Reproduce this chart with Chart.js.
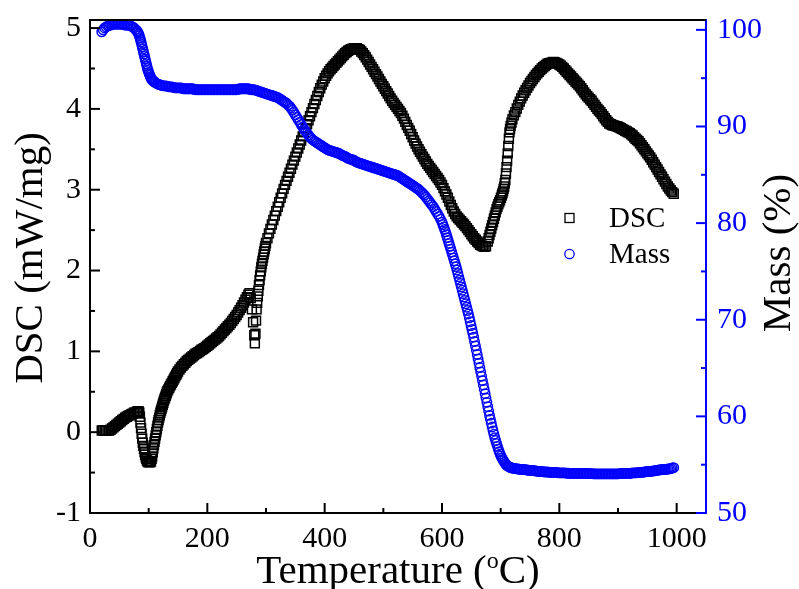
<!DOCTYPE html>
<html>
<head>
<meta charset="utf-8">
<script src="https://cdn.jsdelivr.net/npm/chart.js@4"></script>
<style>
  html, body { margin: 0; padding: 0; background: #fff; }
  #wrap { width: 799px; height: 589px; }
</style>
</head>
<body>
<div id="wrap"><canvas id="dscChart"></canvas></div>
<script>
// Temperature (°C) vs DSC (mW/mg)
const dscPoints = [
  [20,0.02],[22.5,0.02],[25,0.02],[27.5,0.02],[30,0.02],[32.5,0.02],[35,0.03],[37.5,0.045],[40,0.06],[42.5,0.075],
  [45,0.09],[47.5,0.105],[50,0.12],[52.5,0.135],[55,0.15],[57.5,0.165],[60,0.18],[62.5,0.19],[65,0.20],[67.5,0.21],
  [70,0.22],[72.5,0.23],[75,0.24],[77.5,0.245],[80,0.25],[81,0.255],[82,0.26],[83,0.255],[84,0.24],[85,0.19],
  [86,0.12],[87,0.05],[88,-0.02],[89,-0.08],[90,-0.13],[91,-0.17],[92,-0.21],[93,-0.25],[94,-0.28],[95,-0.31],
  [96,-0.33],[97,-0.35],[98,-0.36],[99,-0.37],[100,-0.37],[101,-0.37],[102,-0.37],[103,-0.37],[104,-0.36],[105,-0.33],
  [106,-0.30],[107,-0.25],[108,-0.20],[109,-0.16],[110,-0.12],[111,-0.08],[112,-0.04],[113,0.0],[114,0.04],[115,0.08],
  [116,0.12],[117,0.15],[118,0.18],[119,0.21],[120,0.24],[121,0.265],[122,0.29],[123,0.315],[124,0.34],[125,0.365],
  [126,0.39],[127,0.41],[128,0.43],[129,0.45],[130,0.47],[131,0.49],[132,0.51],[133.5,0.53],[135,0.55],[136.5,0.57],
  [138,0.59],[139.5,0.61],[141,0.63],[142.5,0.65],[144,0.67],[145.5,0.69],[147,0.71],[148.5,0.73],[150,0.75],
  [152.5,0.775],[155,0.80],[157.5,0.82],[160,0.84],[162.5,0.86],[165,0.88],[167.5,0.895],[170,0.91],[172.5,0.925],
  [175,0.94],[177.5,0.955],[180,0.97],[182.5,0.98],[185,0.99],[187.5,1.005],[190,1.02],[192.5,1.03],[195,1.04],
  [197.5,1.055],[200,1.07],[202.5,1.085],[205,1.10],[207.5,1.115],[210,1.13],[212.5,1.145],[215,1.16],[217.5,1.175],
  [220,1.19],[222.5,1.21],[225,1.23],[227.5,1.25],[230,1.27],[232.5,1.29],[235,1.31],[237.5,1.33],[240,1.35],
  [242.5,1.375],[245,1.40],[247.5,1.425],[250,1.45],[252.5,1.48],[255,1.51],[257.5,1.54],[260,1.57],[262.5,1.605],
  [265,1.64],[267.5,1.67],[270,1.70],[272,1.72],[274,1.66],[276,1.52],[278,1.36],[280,1.20],[281,1.10],[282,1.22],
  [283,1.38],[284,1.52],[285,1.60],[286,1.68],[287,1.75],[288,1.82],[289,1.88],[290,1.94],[291,1.99],[292,2.04],
  [293,2.08],[294,2.12],[295,2.16],[296,2.20],[297,2.235],[298,2.27],[299,2.305],[300,2.34],
  [302.5,2.40],[305,2.46],[307.5,2.515],[310,2.57],[312.5,2.625],[315,2.68],[317.5,2.735],[320,2.79],[322.5,2.845],
  [325,2.90],[327.5,2.955],[330,3.01],[332.5,3.06],[335,3.11],[337.5,3.16],[340,3.21],[342.5,3.26],[345,3.31],
  [347.5,3.36],[350,3.41],[352.5,3.46],[355,3.51],[357.5,3.56],[360,3.61],[362.5,3.66],[365,3.71],[367.5,3.76],
  [370,3.81],[372.5,3.86],[375,3.91],[377.5,3.96],[380,4.01],[382.5,4.06],[385,4.11],[387.5,4.16],[390,4.21],
  [392.5,4.255],[395,4.30],[397.5,4.34],[400,4.38],[402.5,4.41],[405,4.44],[407.5,4.465],[410,4.49],[412.5,4.51],
  [415,4.53],[417.5,4.55],[420,4.57],[422.5,4.59],[425,4.61],[427.5,4.63],[430,4.65],[432.5,4.67],[435,4.69],
  [437.5,4.705],[440,4.72],[442.5,4.73],[445,4.74],[447.5,4.745],[450,4.75],[452.5,4.75],[455,4.75],[457.5,4.74],
  [460,4.73],[462.5,4.71],[465,4.69],[467.5,4.665],[470,4.64],[472.5,4.61],[475,4.58],[477.5,4.55],[480,4.52],
  [482.5,4.49],[485,4.46],[487.5,4.43],[490,4.40],[492.5,4.37],[495,4.34],[497.5,4.31],[500,4.28],[502.5,4.25],
  [505,4.22],[507.5,4.19],[510,4.16],[512.5,4.13],[515,4.10],[517.5,4.075],[520,4.05],[522.5,4.025],[525,4.00],
  [527.5,3.975],[530,3.95],[532.5,3.915],[535,3.88],[537.5,3.84],[540,3.80],[542.5,3.765],[545,3.73],[547.5,3.69],
  [550,3.65],[552.5,3.61],[555,3.57],[557.5,3.535],[560,3.50],[562.5,3.47],[565,3.44],[567.5,3.41],[570,3.38],
  [572.5,3.35],[575,3.32],[577.5,3.295],[580,3.27],[582.5,3.245],[585,3.22],[587.5,3.195],[590,3.17],[592.5,3.145],
  [595,3.12],[597.5,3.09],[600,3.06],[602.5,3.02],[605,2.98],[607.5,2.94],[610,2.90],[612.5,2.855],[615,2.81],
  [617.5,2.77],[620,2.73],[622.5,2.70],[625,2.67],[627.5,2.65],[630,2.63],[632.5,2.61],[635,2.59],[637.5,2.57],
  [640,2.55],[642.5,2.525],[645,2.50],[647.5,2.475],[650,2.45],[652.5,2.425],[655,2.40],[657.5,2.38],[660,2.36],
  [662.5,2.34],[665,2.32],[667.5,2.31],[670,2.30],[672.5,2.295],[675,2.30],
  [678,2.36],[679.5,2.40],[681,2.44],[682.5,2.48],[684,2.52],[685.5,2.56],[687,2.60],[688.5,2.64],[690,2.68],
  [691.5,2.72],[693,2.76],[694.5,2.79],[696,2.82],[697.5,2.845],[699,2.87],[700.5,2.90],[702,2.93],[703,2.955],
  [704,2.98],[705,3.01],[706,3.04],[707,3.08],[708,3.12],[709,3.20],[710,3.28],[711,3.36],[712,3.45],[713,3.54],
  [714,3.63],[715,3.71],[716,3.75],[717,3.79],[718.5,3.83],[720,3.87],
  [722.5,3.92],[725,3.96],[727.5,4.005],[730,4.05],[732.5,4.09],[735,4.13],[737.5,4.165],[740,4.20],[742.5,4.23],
  [745,4.26],[747.5,4.29],[750,4.32],[752.5,4.345],[755,4.37],[757.5,4.395],[760,4.42],[762.5,4.44],[765,4.46],
  [767.5,4.48],[770,4.50],[772.5,4.515],[775,4.53],[777.5,4.545],[780,4.56],[782.5,4.565],[785,4.57],[787.5,4.575],
  [790,4.58],[792.5,4.575],[795,4.57],[797.5,4.56],[800,4.55],[802.5,4.535],[805,4.52],[807.5,4.50],[810,4.48],
  [812.5,4.46],[815,4.44],[817.5,4.42],[820,4.40],[822.5,4.38],[825,4.36],[827.5,4.34],[830,4.32],[832.5,4.30],
  [835,4.28],[837.5,4.255],[840,4.23],[842.5,4.205],[845,4.18],[847.5,4.16],[850,4.14],[852.5,4.12],[855,4.10],
  [857.5,4.075],[860,4.05],[862.5,4.025],[865,4.00],[867.5,3.98],[870,3.96],[872.5,3.935],[875,3.91],[877.5,3.885],
  [880,3.86],[882.5,3.84],[885,3.82],[887.5,3.81],[890,3.80],[892.5,3.795],[895,3.79],[897.5,3.785],[900,3.78],
  [902.5,3.77],[905,3.76],[907.5,3.75],[910,3.74],[912.5,3.73],[915,3.72],[917.5,3.71],[920,3.70],[922.5,3.685],
  [925,3.67],[927.5,3.65],[930,3.63],[932.5,3.615],[935,3.60],[937.5,3.575],[940,3.55],[942.5,3.525],[945,3.50],
  [947.5,3.475],[950,3.45],[952.5,3.425],[955,3.40],[957.5,3.37],[960,3.34],[962.5,3.31],[965,3.28],[967.5,3.25],
  [970,3.22],[972.5,3.19],[975,3.16],[977.5,3.13],[980,3.10],[982.5,3.07],[985,3.04],[987.5,3.015],[990,2.99],
  [992.5,2.97],[995,2.95]
];

// Temperature (°C) vs Mass (%)
const massPoints = [
  [20,99.8],[22.5,100.0],[25,100.2],[27.5,100.3],[30,100.4],[32.5,100.45],[35,100.5],[37.5,100.55],[40,100.6],
  [42.5,100.6],[45,100.6],[47.5,100.6],[50,100.6],[52.5,100.6],[55,100.6],[57.5,100.55],[60,100.5],[62.5,100.5],
  [65,100.5],[67.5,100.45],[70,100.4],[72.5,100.3],[75,100.2],[77.5,100.05],[80,99.9],[81,99.8],[82,99.7],[83,99.55],
  [84,99.4],[85,99.2],[86,99.0],[87,98.75],[88,98.5],[89,98.25],[90,98.0],[91,97.75],[92,97.5],[93,97.25],[94,97.0],
  [95,96.75],[96,96.5],[97,96.25],[98,96.0],[99,95.8],[100,95.6],[101,95.45],[102,95.3],[103,95.15],[104,95.0],
  [105,94.9],[106,94.8],[107,94.75],[108,94.7],[109,94.65],[110,94.6],[112.5,94.5],[115,94.4],[117.5,94.35],
  [120,94.3],[122.5,94.25],[125,94.2],[127.5,94.2],[130,94.2],[132.5,94.15],[135,94.1],[137.5,94.1],[140,94.1],
  [142.5,94.05],[145,94.0],[147.5,94.0],[150,94.0],[152.5,94.0],[155,94.0],[157.5,93.95],[160,93.9],[162.5,93.9],
  [165,93.9],[167.5,93.9],[170,93.9],[172.5,93.9],[175,93.9],[177.5,93.85],[180,93.8],[182.5,93.8],[185,93.8],
  [187.5,93.8],[190,93.8],[192.5,93.8],[195,93.8],[197.5,93.8],[200,93.8],[202.5,93.8],[205,93.8],[207.5,93.8],
  [210,93.8],[212.5,93.8],[215,93.8],[217.5,93.8],[220,93.8],[222.5,93.8],[225,93.8],[227.5,93.8],[230,93.8],
  [232.5,93.8],[235,93.8],[237.5,93.8],[240,93.8],[242.5,93.8],[245,93.8],[247.5,93.8],[250,93.8],[252.5,93.85],
  [255,93.9],[257.5,93.9],[260,93.9],[262.5,93.9],[265,93.9],[267.5,93.9],[270,93.9],[272.5,93.85],[275,93.8],
  [277.5,93.8],[280,93.8],[282.5,93.75],[285,93.7],[287.5,93.65],[290,93.6],[292.5,93.55],[295,93.5],[297.5,93.45],
  [300,93.4],[302.5,93.35],[305,93.3],[307.5,93.25],[310,93.2],[312.5,93.15],[315,93.1],[317.5,93.05],[320,93.0],
  [322.5,92.9],[325,92.8],[327.5,92.7],[330,92.6],[332.5,92.5],[335,92.4],[337.5,92.25],[340,92.1],[342.5,91.9],
  [345,91.7],[347.5,91.45],[350,91.2],[352.5,90.95],[355,90.7],[357.5,90.45],[360,90.2],[362.5,89.95],[365,89.7],
  [367.5,89.5],[370,89.3],[372.5,89.1],[375,88.9],[377.5,88.75],[380,88.6],[382.5,88.5],[385,88.4],[387.5,88.3],
  [390,88.2],[392.5,88.1],[395,88.0],[397.5,87.9],[400,87.8],[402.5,87.7],[405,87.6],[407.5,87.55],[410,87.5],
  [412.5,87.45],[415,87.4],[417.5,87.35],[420,87.3],[422.5,87.25],[425,87.2],[427.5,87.1],[430,87.0],[432.5,86.95],
  [435,86.9],[437.5,86.8],[440,86.7],[442.5,86.65],[445,86.6],[447.5,86.55],[450,86.5],[452.5,86.4],[455,86.3],
  [457.5,86.25],[460,86.2],[462.5,86.15],[465,86.1],[467.5,86.05],[470,86.0],[472.5,85.95],[475,85.9],[477.5,85.85],
  [480,85.8],[482.5,85.75],[485,85.7],[487.5,85.65],[490,85.6],[492.5,85.55],[495,85.5],[497.5,85.45],[500,85.4],
  [502.5,85.35],[505,85.3],[507.5,85.25],[510,85.2],[512.5,85.15],[515,85.1],[517.5,85.05],[520,85.0],[522.5,84.95],
  [525,84.9],[527.5,84.8],[530,84.7],[532.5,84.6],[535,84.5],[537.5,84.4],[540,84.3],[542.5,84.2],[545,84.1],
  [547.5,84.0],[550,83.9],[552.5,83.8],[555,83.7],[557.5,83.6],[560,83.5],[562.5,83.35],[565,83.2],[567.5,83.05],
  [570,82.9],[572.5,82.7],[575,82.5],[577.5,82.3],[580,82.1],[582.5,81.9],[585,81.7],[587.5,81.45],[590,81.2],
  [592.5,80.95],[595,80.7],[597.5,80.4],[600,80.1],[601.5,79.85],[603,79.6],[604.5,79.35],[606,79.1],[607.5,78.8],
  [609,78.5],[610.5,78.2],[612,77.9],[613.5,77.6],[615,77.3],[616.5,77.0],[618,76.7],[619.5,76.4],[621,76.1],
  [622.5,75.8],[624,75.5],[625.5,75.15],[627,74.8],[628.5,74.45],[630,74.1],[631.5,73.75],[633,73.4],[634.5,73.05],
  [636,72.7],[637.5,72.35],[639,72.0],[640.5,71.65],[642,71.3],[643.5,70.95],[645,70.6],[646.5,70.2],[648,69.8],
  [649.5,69.4],[651,69.0],[652.5,68.6],[654,68.2],[655.5,67.75],[657,67.3],[658.5,66.85],[660,66.4],[661.5,65.95],
  [663,65.5],[664.5,65.05],[666,64.6],[667.5,64.15],[669,63.7],[670.5,63.25],[672,62.8],[673.5,62.35],[675,61.9],
  [676.5,61.45],[678,61.0],[679.5,60.55],[681,60.1],[682.5,59.7],[684,59.3],[685.5,58.9],[687,58.5],[688.5,58.15],
  [690,57.8],[691.5,57.5],[693,57.2],[694.5,56.9],[696,56.6],[697.5,56.35],[699,56.1],[700.5,55.9],[702,55.7],
  [703.5,55.55],[705,55.4],[706.5,55.25],[708,55.1],[709.5,55.0],[711,54.9],[712.5,54.85],[714,54.8],[715.5,54.75],
  [717,54.7],[718.5,54.67],[720,54.65],[722.5,54.62],[725,54.6],[727.5,54.57],[730,54.55],[732.5,54.52],[735,54.5],
  [737.5,54.5],[740,54.5],[742.5,54.47],[745,54.45],[747.5,54.42],[750,54.4],[752.5,54.4],[755,54.4],[757.5,54.37],
  [760,54.35],[762.5,54.32],[765,54.3],[767.5,54.3],[770,54.3],[772.5,54.27],[775,54.25],[777.5,54.25],[780,54.25],
  [782.5,54.22],[785,54.2],[787.5,54.2],[790,54.2],[792.5,54.2],[795,54.2],[797.5,54.17],[800,54.15],[802.5,54.15],
  [805,54.15],[807.5,54.15],[810,54.15],[812.5,54.12],[815,54.12],[817.5,54.1],[820,54.1],[822.5,54.1],[825,54.1],
  [827.5,54.1],[830,54.1],[832.5,54.1],[835,54.1],[837.5,54.1],[840,54.1],[842.5,54.1],[845,54.1],[847.5,54.1],
  [850,54.1],[852.5,54.08],[855,54.07],[857.5,54.06],[860,54.05],[862.5,54.05],[865,54.05],[867.5,54.05],[870,54.05],
  [872.5,54.05],[875,54.05],[877.5,54.05],[880,54.05],[882.5,54.05],[885,54.05],[887.5,54.05],[890,54.05],
  [892.5,54.05],[895,54.05],[897.5,54.05],[900,54.05],[902.5,54.07],[905,54.1],[907.5,54.1],[910,54.1],[912.5,54.1],
  [915,54.1],[917.5,54.1],[920,54.1],[922.5,54.12],[925,54.15],[927.5,54.15],[930,54.15],[932.5,54.17],[935,54.2],
  [937.5,54.2],[940,54.2],[942.5,54.22],[945,54.25],[947.5,54.27],[950,54.3],[952.5,54.3],[955,54.3],[957.5,54.32],
  [960,54.35],[962.5,54.37],[965,54.4],[967.5,54.42],[970,54.45],[972.5,54.47],[975,54.5],[977.5,54.5],[980,54.5],
  [982.5,54.52],[985,54.55],[987.5,54.57],[990,54.6],[992.5,54.65],[995,54.7]
];

const tempTicks = [0, 200, 400, 600, 800, 1000];
const tempMinor = [100, 300, 500, 700, 900];
const dscTicks = [-1, 0, 1, 2, 3, 4, 5];
const dscMinor = [-0.5, 0.5, 1.5, 2.5, 3.5, 4.5];
const massTicks = [50, 60, 70, 80, 90, 100];
const massMinor = [55, 65, 75, 85, 95];

const serif = "'Liberation Serif', 'Times New Roman', serif";
const BLUE = "#0000ff";
Chart.defaults.font.family = serif;

const noPad = s => { s.paddingTop = 0; s.paddingBottom = 0; s.paddingLeft = 0; s.paddingRight = 0; };

// inward ticks, top frame, axis titles and the legend inside the plot
const decor = {
  id: "decor",
  afterDraw(chart) {
    const { ctx, chartArea: a, scales } = chart;
    ctx.save();
    ctx.lineWidth = 2;
    ctx.strokeStyle = "#000";
    ctx.beginPath();
    ctx.moveTo(a.left - 1, a.top);
    ctx.lineTo(a.right, a.top);
    ctx.stroke();

    const xTick = (v, len) => {
      const px = scales.x.getPixelForValue(v);
      ctx.beginPath(); ctx.moveTo(px, a.bottom); ctx.lineTo(px, a.bottom - len); ctx.stroke();
    };
    const yTick = (scale, v, len, side) => {
      const py = scale.getPixelForValue(v);
      const x0 = side === "left" ? a.left : a.right;
      const dir = side === "left" ? 1 : -1;
      ctx.beginPath(); ctx.moveTo(x0, py); ctx.lineTo(x0 + dir * len, py); ctx.stroke();
    };
    tempTicks.forEach(v => xTick(v, 10));
    tempMinor.forEach(v => xTick(v, 5));
    dscTicks.forEach(v => yTick(scales.y, v, 10, "left"));
    dscMinor.forEach(v => yTick(scales.y, v, 5, "left"));
    ctx.strokeStyle = BLUE;
    massTicks.forEach(v => yTick(scales.y2, v, 10, "right"));
    massMinor.forEach(v => yTick(scales.y2, v, 5, "right"));

    // axis titles
    ctx.fillStyle = "#000";
    ctx.font = "41px " + serif;
    ctx.textBaseline = "alphabetic";
    ctx.save();
    ctx.translate(42, 258);
    ctx.rotate(-Math.PI / 2);
    ctx.textAlign = "center";
    ctx.fillText("DSC (mW/mg)", 0, 0);
    ctx.restore();

    ctx.save();
    ctx.translate(790, 253);
    ctx.rotate(-Math.PI / 2);
    ctx.textAlign = "center";
    ctx.fillText("Mass (%)", 0, 0);
    ctx.restore();

    const part1 = "Temperature (", sup = "o", part2 = "C)";
    const w1 = ctx.measureText(part1).width;
    const w3 = ctx.measureText(part2).width;
    ctx.font = "24px " + serif;
    const w2 = ctx.measureText(sup).width;
    const total = w1 + w2 + w3;
    const tx = (a.left + a.right) / 2 - total / 2;
    const base = 583;
    ctx.textAlign = "left";
    ctx.font = "41px " + serif;
    ctx.fillText(part1, tx, base);
    ctx.font = "24px " + serif;
    ctx.fillText(sup, tx + w1, base - 15);
    ctx.font = "41px " + serif;
    ctx.fillText(part2, tx + w1 + w2, base);

    // legend
    ctx.lineWidth = 1.3;
    ctx.strokeStyle = "#000";
    ctx.strokeRect(565, 213.5, 9, 9);
    ctx.strokeStyle = BLUE;
    ctx.beginPath();
    ctx.arc(569.5, 254, 4.7, 0, Math.PI * 2);
    ctx.stroke();
    ctx.fillStyle = "#000";
    ctx.font = "29px " + serif;
    ctx.fillText("DSC", 609, 227);
    ctx.fillText("Mass", 609, 263);
    ctx.restore();
  }
};

new Chart(document.getElementById("dscChart"), {
  type: "scatter",
  data: {
    datasets: [
      {
        label: "DSC",
        data: dscPoints.map(p => ({ x: p[0], y: p[1] })),
        yAxisID: "y",
        order: 1,
        pointStyle: "rect",
        pointRadius: 6.3,
        pointBorderWidth: 1.5,
        borderColor: "#000",
        backgroundColor: "rgba(255,255,255,0)"
      },
      {
        label: "Mass",
        data: massPoints.map(p => ({ x: p[0], y: p[1] })),
        yAxisID: "y2",
        order: 0,
        pointStyle: "circle",
        pointRadius: 4.7,
        pointBorderWidth: 1.5,
        borderColor: BLUE,
        backgroundColor: "rgba(255,255,255,0)"
      }
    ]
  },
  options: {
    responsive: true,
    maintainAspectRatio: false,
    animation: false,
    layout: { padding: { top: 20, left: 0, right: 0, bottom: 0 } },
    plugins: { legend: { display: false }, tooltip: { enabled: false } },
    scales: {
      x: {
        type: "linear",
        min: 0,
        max: 1050,
        afterBuildTicks: s => { s.ticks = tempTicks.map(v => ({ value: v })); },
        afterFit: s => { s.height = 76; noPad(s); },
        grid: { display: false, drawTicks: false },
        border: { display: true, color: "#000", width: 2 },
        ticks: { color: "#000", font: { size: 30 }, padding: 8, maxRotation: 0, callback: v => String(v) }
      },
      y: {
        position: "left",
        min: -1,
        max: 5.1,
        afterBuildTicks: s => { s.ticks = dscTicks.map(v => ({ value: v })); },
        afterFit: s => { s.width = 90; noPad(s); },
        grid: { display: false, drawTicks: false },
        border: { display: true, color: "#000", width: 2 },
        ticks: { color: "#000", font: { size: 30 }, padding: 9, callback: v => String(v) }
      },
      y2: {
        position: "right",
        min: 50,
        max: 101.02,
        afterBuildTicks: s => { s.ticks = massTicks.map(v => ({ value: v })); },
        afterFit: s => { s.width = 93; noPad(s); },
        grid: { display: false, drawTicks: false },
        border: { display: true, color: BLUE, width: 2 },
        ticks: { color: BLUE, font: { size: 30 }, padding: 11, callback: v => String(v) }
      }
    }
  },
  plugins: [decor]
});
</script>
</body>
</html>
